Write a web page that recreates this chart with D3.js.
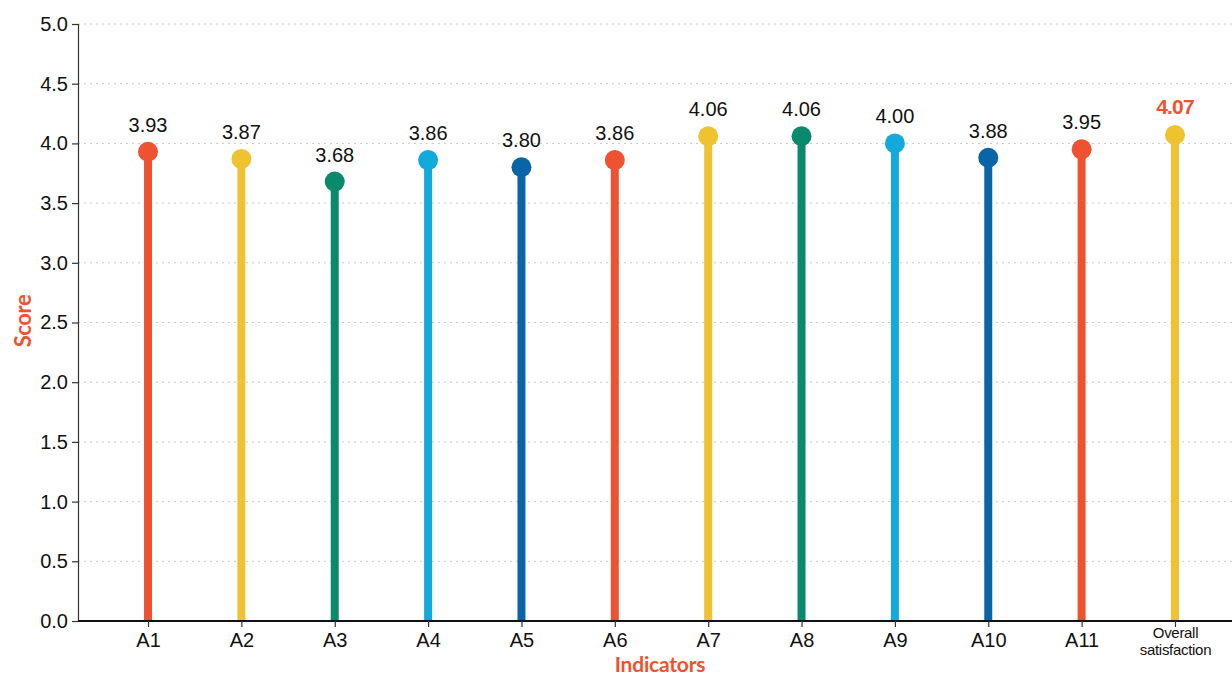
<!DOCTYPE html>
<html>
<head>
<meta charset="utf-8">
<script src="https://cdn.jsdelivr.net/npm/d3@7"></script>
<style>
  html, body { margin: 0; padding: 0; background: #fff; }
  svg { display: block; }
</style>
</head>
<body>
<svg id="chart" width="1232" height="677"></svg>
<script>
// Indicator scores (lollipop chart)
const categories = ["A1", "A2", "A3", "A4", "A5", "A6", "A7", "A8", "A9", "A10", "A11", "Overall satisfaction"];
const scores = [3.93, 3.87, 3.68, 3.86, 3.80, 3.86, 4.06, 4.06, 4.00, 3.88, 3.95, 4.07];
const colors = ["#EF5230", "#EEC32F", "#0A8A6C", "#12AADB", "#0A65A8", "#EF5230",
                "#EEC32F", "#0A8A6C", "#12AADB", "#0A65A8", "#EF5230", "#EEC32F"];
const yTicks = [0, 0.5, 1, 1.5, 2, 2.5, 3, 3.5, 4, 4.5, 5];

const W = 1232, H = 677;
const plotLeft = 78, plotTop = 24, plotBottom = 621;
const accent = "#EF5230";
const sans = "'Liberation Sans', Arial, sans-serif";
const titleFont = "Lato, 'Open Sans', sans-serif";

const svg = d3.select("#chart");

const x = d3.scalePoint().domain(categories).range([plotLeft, 1245]).padding(0.75);
const y = d3.scaleLinear().domain([0, 5]).range([plotBottom, plotTop]);

// dotted horizontal grid
svg.append("g")
  .selectAll("line")
  .data(yTicks.filter(d => d > 0))
  .join("line")
  .attr("x1", plotLeft).attr("x2", W)
  .attr("y1", d => y(d)).attr("y2", d => y(d))
  .attr("stroke", "#c8c8c8")
  .attr("stroke-width", 1)
  .attr("stroke-dasharray", "2,4");

// y axis
const yAxis = svg.append("g")
  .attr("transform", `translate(${plotLeft},0)`)
  .call(d3.axisLeft(y).tickValues(yTicks).tickFormat(d3.format(".1f")).tickSize(6).tickPadding(4));
yAxis.select(".domain").attr("stroke", "#333").attr("stroke-width", 1.2);
yAxis.selectAll(".tick line").attr("stroke", "#333").attr("stroke-width", 1.2);
yAxis.selectAll(".tick text")
  .attr("font-family", sans)
  .attr("font-size", 20)
  .attr("fill", "#111");

// stems
svg.append("g")
  .selectAll("line")
  .data(categories)
  .join("line")
  .attr("x1", d => x(d)).attr("x2", d => x(d))
  .attr("y1", y(0))
  .attr("y2", (d, i) => y(scores[i]))
  .attr("stroke", (d, i) => colors[i])
  .attr("stroke-width", 8);

// x axis
const xAxis = svg.append("g")
  .attr("transform", `translate(0,${plotBottom})`)
  .call(d3.axisBottom(x).tickSize(6).tickPadding(6).tickSizeOuter(0));
xAxis.select(".domain").attr("d", `M${plotLeft},0H${W}`).attr("stroke", "#111").attr("stroke-width", 2);
xAxis.selectAll(".tick line").attr("stroke", "#333").attr("stroke-width", 1.2);
xAxis.selectAll(".tick text")
  .attr("font-family", sans)
  .attr("font-size", 20)
  .attr("fill", "#111")
  .each(function (d) {
    if (d === "Overall satisfaction") {
      const t = d3.select(this).text(null)
        .attr("font-size", 15)
        .attr("letter-spacing", -0.3)
        .attr("dy", null)
        .attr("y", 0);
      t.append("tspan").attr("x", 0).attr("y", 17).text("Overall");
      t.append("tspan").attr("x", 0).attr("y", 34).text("satisfaction");
    }
  });

// heads
svg.append("g")
  .selectAll("circle")
  .data(categories)
  .join("circle")
  .attr("cx", d => x(d))
  .attr("cy", (d, i) => y(scores[i]))
  .attr("r", 10)
  .attr("fill", (d, i) => colors[i]);

// value labels
const last = categories.length - 1;
svg.append("g")
  .selectAll("text")
  .data(categories)
  .join("text")
  .attr("x", d => x(d))
  .attr("y", (d, i) => y(scores[i]) - (i === last ? 21 : 20))
  .attr("text-anchor", "middle")
  .attr("font-family", sans)
  .attr("font-size", (d, i) => i === last ? 21 : 20)
  .attr("font-weight", (d, i) => i === last ? "bold" : "normal")
  .attr("letter-spacing", (d, i) => i === last ? -0.8 : 0)
  .attr("fill", (d, i) => i === last ? accent : "#111")
  .text((d, i) => scores[i].toFixed(2));

// axis titles
svg.append("text")
  .attr("transform", `translate(31,321) rotate(-90)`)
  .attr("text-anchor", "middle")
  .attr("font-family", titleFont)
  .attr("font-weight", 700)
  .attr("font-size", 22)
  .attr("letter-spacing", -0.4)
  .attr("fill", accent)
  .text("Score");

svg.append("text")
  .attr("x", 660)
  .attr("y", 672)
  .attr("text-anchor", "middle")
  .attr("font-family", titleFont)
  .attr("font-weight", 700)
  .attr("font-size", 21)
  .attr("letter-spacing", -0.2)
  .attr("fill", accent)
  .text("Indicators");
</script>
</body>
</html>
